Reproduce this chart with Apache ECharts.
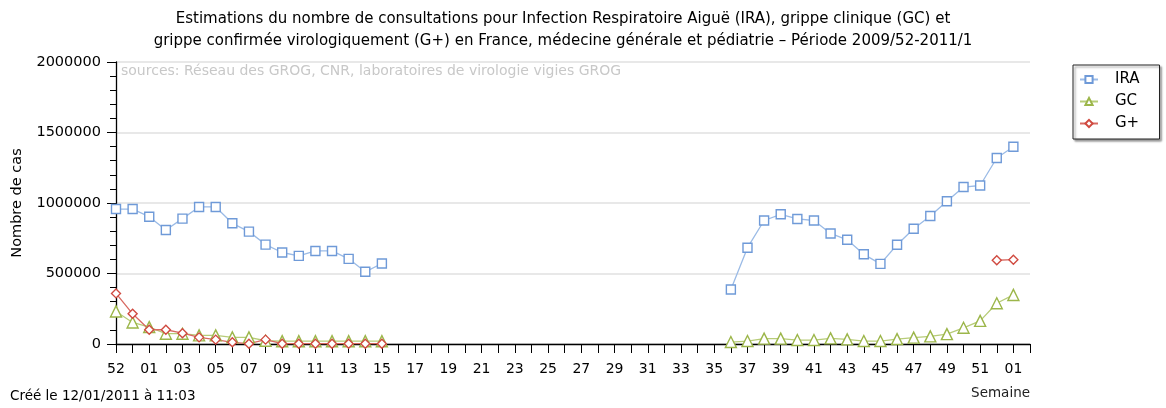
<!DOCTYPE html>
<html><head><meta charset="utf-8">
<script src="https://cdn.jsdelivr.net/npm/echarts@6/dist/echarts.min.js"></script>
<style>html,body{margin:0;padding:0;background:#fff}#c{width:1166px;height:408px}</style>
</head><body><div id="c"></div>
<script>
const weeks = ['52','53','01','02','03','04','05','06','07','08','09','10','11','12','13','14','15','16','17','18','19','20','21','22','23','24','25','26','27','28','29','30','31','32','33','34','35','36','37','38','39','40','41','42','43','44','45','46','47','48','49','50','51','52','01','02'];
const N = null;
const ira = [957000,957000,903000,809000,889000,972000,972000,856000,797000,705000,649000,625000,660000,660000,604000,512000,571000,
  N,N,N,N,N,N,N,N,N,N,N,N,N,N,N,N,N,N,N,N,
  387000,683000,876000,920000,887000,876000,784000,739000,636000,568000,704000,817000,908000,1012000,1113000,1124000,1319000,1399000,N];
const gc = [231000,153000,120000,73000,73000,61000,61000,47000,47000,23000,20000,20000,20000,20000,20000,20000,20000,
  N,N,N,N,N,N,N,N,N,N,N,N,N,N,N,N,N,N,N,N,
  14000,21000,38000,38000,28000,28000,40000,33000,21000,21000,35000,45000,54000,70000,115000,164000,289000,348000,N];
const gplus = [359000,214000,101000,101000,77000,47000,31000,12000,2000,31000,2000,2000,2000,2000,2000,2000,2000,
  N,N,N,N,N,N,N,N,N,N,N,N,N,N,N,N,N,N,N,N,
  N,N,N,N,N,N,N,N,N,N,N,N,N,N,N,N,594000,598000,N];

const chart = echarts.init(document.getElementById('c'), null, {renderer:'canvas'});
const font = 'DejaVu Sans, Verdana, sans-serif';
function ser(name, data, sym, col, lineCol, size){
  return {name, type:'line', data, connectNulls:false, showAllSymbol:true, symbol:sym, symbolSize:size,
    lineStyle:{color:lineCol, width:1.3},
    itemStyle:{color:'#fff', borderColor:col, borderWidth:1.4},
    emphasis:{disabled:true}, animation:false};
}
chart.setOption({
  animation:false,
  textStyle:{fontFamily:font},
  title:{text:'Estimations du nombre de consultations pour Infection Respiratoire Aiguë (IRA), grippe clinique (GC) et\ngrippe confirmée virologiquement (G+) en France, médecine générale et pédiatrie – Période 2009/52-2011/1',
    left:558, top:3, textAlign:'center',
    textStyle:{fontSize:15, fontWeight:'normal', color:'#000', lineHeight:22, fontFamily:font}},
  legend:{orient:'vertical', left:1073, top:65, itemWidth:18, itemHeight:9, itemGap:7,
    padding:[7,20,8,6], borderColor:'#222', borderWidth:1, backgroundColor:'#fff',
    shadowColor:'rgba(0,0,0,0.4)', shadowBlur:2, shadowOffsetX:2, shadowOffsetY:2,
    textStyle:{fontSize:15, color:'#000', fontFamily:font, padding:[0,0,0,12]}, data:['IRA','GC','G+']},
  grid:{left:116, right:136, top:62, bottom:64},
  xAxis:{type:'category', data:weeks, boundaryGap:false, name:'Semaine', nameLocation:'end',
    nameGap:0, nameTextStyle:{fontSize:13.5, color:'#222', align:'right', verticalAlign:'top', padding:[42,0,0,0]},
    axisLine:{lineStyle:{color:'#000', width:1.3}},
    axisTick:{interval:0, length:9, lineStyle:{color:'#000'}},
    axisLabel:{interval:1, fontSize:14, color:'#000', margin:18}},
  yAxis:{type:'value', min:0, max:2000000, interval:500000, name:'Nombre de cas', nameLocation:'middle', nameGap:91,
    nameTextStyle:{fontSize:14.5, color:'#000'},
    axisLine:{show:true, lineStyle:{color:'#000', width:1.3}},
    axisTick:{show:true, length:9, lineStyle:{color:'#000'}},
    minorTick:{show:true, splitNumber:5, length:6, lineStyle:{color:'#000'}},
    axisLabel:{fontSize:14.5, color:'#000', margin:15, formatter:v=>String(v)},
    splitLine:{lineStyle:{color:'#e0e0e0', width:1.5}}},
  series:[
    ser('IRA', ira, 'rect', '#6f9ad8', '#9bbbe6', 9),
    ser('GC', gc, 'triangle', '#9cb64a', '#b7cc78', 11),
    ser('G+', gplus, 'diamond', '#d04a40', '#d86a62', 9)
  ],
  graphic:[
    {type:'text', left:121, top:64, style:{text:'sources: Réseau des GROG, CNR, laboratoires de virologie vigies GROG', fontSize:14, fill:'#c8c8c8', fontFamily:font}},
    {type:'text', left:10, top:389, style:{text:'Créé le 12/01/2011 à 11:03', fontSize:13.5, fill:'#000', fontFamily:font}}
  ]
});
</script></body></html>
